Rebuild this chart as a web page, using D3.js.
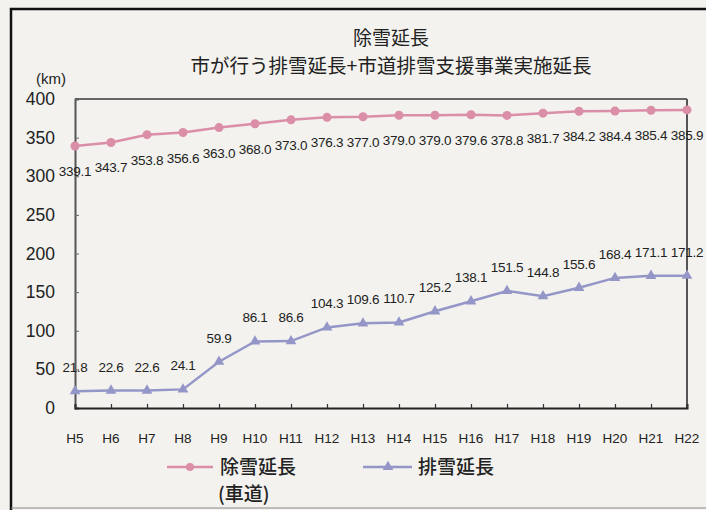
<!DOCTYPE html>
<html><head><meta charset="utf-8">
<script src="https://cdn.jsdelivr.net/npm/d3@7"></script>
<style>
html,body{margin:0;padding:0;background:#f3f2ee;}
svg{display:block;}
</style></head>
<body>
<svg id="chart" width="706" height="510"></svg>
<script>
const categories = ["H5","H6","H7","H8","H9","H10","H11","H12","H13","H14","H15","H16","H17","H18","H19","H20","H21","H22"];
const josetsu = [339.1,343.7,353.8,356.6,363.0,368.0,373.0,376.3,377.0,379.0,379.0,379.6,378.8,381.7,384.2,384.4,385.4,385.9];
const haisetsu = [21.8,22.6,22.6,24.1,59.9,86.1,86.6,104.3,109.6,110.7,125.2,138.1,151.5,144.8,155.6,168.4,171.1,171.2];
const yTicks = [0,50,100,150,200,250,300,350,400];
const titleLines = ["除雪延長","市が行う排雪延長+市道排雪支援事業実施延長"];
const seriesNames = ["除雪延長","排雪延長"];

const pink = "#db8ea8", blue = "#9596c8";
const svg = d3.select("#chart");
const cjk = "'Noto Sans CJK JP','Noto Sans CJK SC',sans-serif";
const lat = "'Liberation Sans',Arial,sans-serif";

// outer frame
svg.append("rect").attr("x",0).attr("y",0).attr("width",706).attr("height",510).attr("fill","#f3f2ee");
svg.append("path").attr("d","M11,512 L11,9 L708,9").attr("fill","none").attr("stroke","#111").attr("stroke-width",2.5);
svg.append("line").attr("x1",11).attr("x2",708).attr("y1",508).attr("y2",508).attr("stroke","#888").attr("stroke-width",1);

const x = d3.scalePoint().domain(categories).range([75,687]).padding(0);
const y = d3.scaleLinear().domain([0,400]).range([408,99]);

// titles
svg.append("text").attr("x",391).attr("y",45).attr("text-anchor","middle")
  .attr("font-family",cjk).attr("font-size",19).attr("fill","#222").text(titleLines[0]);
svg.append("text").attr("x",391).attr("y",73).attr("text-anchor","middle")
  .attr("font-family",cjk).attr("font-size",19.5).attr("fill","#222").text(titleLines[1]);
svg.append("text").attr("x",51).attr("y",84).attr("text-anchor","middle")
  .attr("font-family",lat).attr("font-size",15).attr("fill","#222").text("(km)");

// plot frame top/right
svg.append("line").attr("x1",75).attr("x2",687).attr("y1",y(400)).attr("y2",y(400)).attr("stroke","#666").attr("stroke-width",2);
svg.append("line").attr("x1",687).attr("x2",687).attr("y1",y(400)).attr("y2",y(0)).attr("stroke","#555").attr("stroke-width",2);

// y axis
const yAxis = svg.append("g").attr("transform","translate(75,0)")
  .call(d3.axisRight(y).tickValues(yTicks).tickSize(4).tickFormat(""));
yAxis.select(".domain").attr("stroke","#555").attr("stroke-width",2);
yAxis.selectAll(".tick line").attr("stroke","#666");
svg.append("g").selectAll("text").data(yTicks).join("text")
  .attr("x",55).attr("y",d=>y(d)+6).attr("text-anchor","end")
  .attr("font-family",lat).attr("font-size",17.5).attr("fill","#222").text(d=>d);

// x axis
const xAxis = svg.append("g").attr("transform",`translate(0,${y(0)})`)
  .call(d3.axisTop(x).tickSize(4).tickFormat(""));
xAxis.select(".domain").attr("stroke","#222").attr("stroke-width",2);
xAxis.selectAll(".tick line").attr("stroke","#333").attr("stroke-width",1.2);
svg.append("g").selectAll("text").data(categories).join("text")
  .attr("x",d=>x(d)).attr("y",443).attr("text-anchor","middle")
  .attr("font-family",lat).attr("font-size",13.5).attr("fill","#222").text(d=>d);

// lines
const line = d3.line().x((d,i)=>x(categories[i])).y(d=>y(d));
svg.append("path").datum(josetsu).attr("d",line).attr("fill","none").attr("stroke",pink).attr("stroke-width",2.5);
svg.append("path").datum(haisetsu).attr("d",line).attr("fill","none").attr("stroke",blue).attr("stroke-width",2.5);

// markers
svg.append("g").selectAll("circle").data(josetsu).join("circle")
  .attr("cx",(d,i)=>x(categories[i])).attr("cy",d=>y(d)).attr("r",4.5).attr("fill",pink);
const tri = d3.symbol().type(d3.symbolTriangle).size(50);
svg.append("g").selectAll("path").data(haisetsu).join("path")
  .attr("transform",(d,i)=>`translate(${x(categories[i])},${y(d)})`).attr("d",tri).attr("fill",blue);

// data labels
svg.append("g").selectAll("text").data(josetsu).join("text")
  .attr("x",(d,i)=>x(categories[i])).attr("y",d=>y(d)+30).attr("text-anchor","middle")
  .attr("font-family",lat).attr("font-size",13.5).attr("letter-spacing",-0.3).attr("fill","#222").text(d=>d.toFixed(1));
svg.append("g").selectAll("text").data(haisetsu).join("text")
  .attr("x",(d,i)=>x(categories[i])).attr("y",d=>y(d)-19).attr("text-anchor","middle")
  .attr("font-family",lat).attr("font-size",13.5).attr("letter-spacing",-0.3).attr("fill","#222").text(d=>d.toFixed(1));

// legend
const lg = svg.append("g");
lg.append("line").attr("x1",167).attr("x2",213).attr("y1",467).attr("y2",467).attr("stroke",pink).attr("stroke-width",2.5);
lg.append("circle").attr("cx",190).attr("cy",467).attr("r",4).attr("fill",pink);
lg.append("text").attr("x",220).attr("y",474).attr("font-family",cjk).attr("font-size",19).attr("font-weight",500).attr("fill","#222").text(seriesNames[0]);
lg.append("text").attr("x",218).attr("y",501).attr("font-family",cjk).attr("font-size",19).attr("font-weight",500).attr("fill","#222").text("(車道)");
lg.append("line").attr("x1",363).attr("x2",412).attr("y1",467).attr("y2",467).attr("stroke",blue).attr("stroke-width",2.5);
lg.append("path").attr("transform","translate(388,467)").attr("d",tri).attr("fill",blue);
lg.append("text").attr("x",418).attr("y",474).attr("font-family",cjk).attr("font-size",19).attr("font-weight",500).attr("fill","#222").text(seriesNames[1]);
</script>
</body></html>
